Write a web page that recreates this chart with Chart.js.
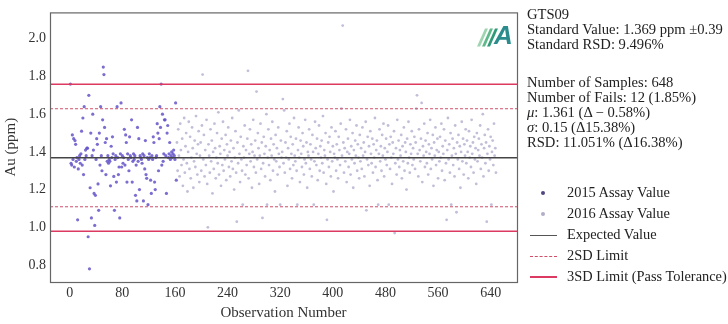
<!DOCTYPE html>
<html>
<head>
<meta charset="utf-8">
<script src="https://cdn.jsdelivr.net/npm/chart.js@4"></script>
<style>
  body { margin: 0; background: #fff; }
  #wrap { position: relative; width: 728px; height: 324px; font-family: "Liberation Serif", serif; color: #222; }
  #chart { position: absolute; left: 0; top: 0; }
  .info { position: absolute; left: 527px; font-size: 14.6px; line-height: 15px; white-space: nowrap; }
  .leg { position: absolute; left: 528px; font-size: 14.4px; white-space: nowrap; }
  .leg div { position: relative; height: 21px; line-height: 21px; padding-left: 39px; }
  .dot { position: absolute; left: 13px; top: 9px; width: 4px; height: 4px; border-radius: 50%; }
  .ln { position: absolute; left: 2px; top: 11px; width: 27px; height: 0; }
  .bar { position: absolute; left: 2px; top: 10px; width: 27px; height: 2px; }
</style>
</head>
<body>
<div id="wrap">
  <canvas id="chart" width="728" height="324"></canvas>
  <div class="info" style="top:7px">
    GTS09<br>
    Standard Value: 1.369 ppm ±0.39<br>
    Standard RSD: 9.496%
  </div>
  <div class="info" style="top:75px">
    Number of Samples: 648<br>
    Number of Fails: 12 (1.85%)<br>
    <i>μ</i>: 1.361 (Δ − 0.58%)<br>
    <i>σ</i>: 0.15 (Δ15.38%)<br>
    RSD: 11.051% (Δ16.38%)
  </div>
  <div class="leg" style="top:182px">
    <div><span class="dot" style="background:#4f4880"></span>2015 Assay Value</div>
    <div><span class="dot" style="background:#b3adc8"></span>2016 Assay Value</div>
    <div><span class="ln" style="border-top:1px solid #555"></span>Expected Value</div>
    <div><span class="ln" style="border-top:1px dashed #d0506a"></span>2SD Limit</div>
    <div><span class="bar" style="background:#dc3a60"></span>3SD Limit (Pass Tolerance)</div>
  </div>
</div>
<script>
// reference lines
const expected = 1.369;
const sd = 0.13;
const lim2 = [expected - 2 * sd, expected + 2 * sd];
const lim3 = [expected - 3 * sd, expected + 3 * sd];

const xTicks = [0, 80, 160, 240, 320, 400, 480, 560, 640];
const yTicks = [0.8, 1.0, 1.2, 1.4, 1.6, 1.8, 2.0];
const xRange = [-30, 680];
const yRange = [0.71, 2.14];

// 2015 assays, observations 1..162
const assay2015 = [
  1.76, 1.34, 1.33, 1.49, 1.36, 1.47, 1.32, 1.46, 1.44, 1.35,
  1.37, 1.04, 1.31, 1.36, 1.38, 1.34, 1.39, 1.51, 1.33, 1.58,
  1.28, 1.64, 1.36, 1.41, 1.38, 1.42, 1.42, 0.95, 1.70, 0.78,
  1.21, 1.50, 1.05, 1.38, 1.60, 1.41, 1.18, 1.01, 1.17, 1.36,
  1.47, 1.44, 1.23, 1.09, 1.50, 1.33, 1.64, 1.38, 1.30, 1.57,
  1.85, 1.81, 1.53, 1.45, 1.28, 1.47, 1.35, 1.38, 1.34, 1.36,
  1.35, 1.22, 1.43, 1.37, 1.48, 1.39, 1.27, 1.09, 1.36, 1.38,
  1.24, 1.64, 1.37, 1.28, 1.32, 1.05, 1.39, 1.66, 1.32, 1.38,
  1.34, 1.37, 1.52, 1.33, 1.49, 1.45, 1.24, 1.39, 1.36, 1.30,
  1.48, 1.38, 1.37, 1.57, 1.24, 1.35, 1.39, 1.36, 1.38, 1.17,
  1.33, 1.14, 1.53, 1.35, 1.47, 1.20, 1.38, 1.37, 1.36, 1.34,
  1.39, 1.14, 1.38, 1.31, 1.46, 1.28, 1.26, 1.37, 1.12, 1.36,
  1.39, 1.37, 1.25, 1.18, 1.38, 1.36, 1.48, 1.45, 1.24, 1.20,
  1.37, 1.38, 1.55, 1.50, 1.30, 1.47, 1.64, 1.53, 1.76, 1.33,
  1.60, 1.35, 1.39, 1.57, 1.57, 1.38, 1.18, 1.50, 1.54, 1.37,
  1.39, 1.45, 1.36, 1.38, 1.40, 1.37, 1.39, 1.41, 1.38, 1.36,
  1.66, 1.25
];

// 2016 assays, observations 163..648
const assay2016 = [
  1.45, 1.30, 1.52, 1.38, 1.27, 1.55, 1.41, 1.33, 1.47, 1.22, 1.36, 1.58, 1.29, 1.43, 1.50, 1.34, 1.19, 1.40, 1.56, 1.31,
  1.48, 1.26, 1.37, 1.53, 1.42, 1.21, 1.35, 1.46, 1.32, 1.59, 1.39, 1.28, 1.44, 1.51, 1.24, 1.38, 1.45, 1.30, 1.54, 1.81,
  1.36, 1.49, 1.27, 1.41, 1.33, 1.57, 1.23, 1.00, 1.44, 1.38, 1.29, 1.52, 1.35, 1.46, 1.18, 1.40, 1.31, 1.55, 1.42, 1.26,
  1.37, 1.50, 1.34, 1.61, 1.28, 1.43, 1.39, 1.22, 1.47, 1.33, 1.56, 1.30, 1.41, 1.36, 1.49, 1.25, 1.44, 1.38, 1.53, 1.32,
  1.40, 1.27, 1.46, 1.35, 1.58, 1.31, 1.42, 1.20, 1.37, 1.51, 1.29, 1.03, 1.45, 1.34, 1.62, 1.39, 1.24, 1.48, 1.36, 1.30,
  1.12, 1.43, 1.37, 1.54, 1.28, 1.41, 1.33, 1.47, 1.83, 1.26, 1.39, 1.52, 1.35, 1.44, 1.21, 1.40, 1.57, 1.32, 1.38, 1.46,
  1.29, 1.72, 1.36, 1.50, 1.42, 1.23, 1.38, 1.55, 1.31, 1.45, 1.05, 1.34, 1.48, 1.39, 1.27, 1.43, 1.60, 1.12, 1.37, 1.52,
  1.33, 1.41, 1.25, 1.47, 1.38, 1.56, 1.30, 1.44, 1.36, 1.19, 1.49, 1.35, 1.42, 1.28, 1.53, 1.39, 1.32, 1.12, 1.46, 1.37,
  1.40, 1.68, 1.34, 1.62, 1.29, 1.45, 1.37, 1.51, 1.22, 1.42, 1.36, 1.55, 1.31, 1.48, 1.39, 1.26, 1.44, 1.33, 1.58, 1.38,
  1.35, 1.47, 1.30, 1.12, 1.41, 1.53, 1.37, 1.24, 1.46, 1.39, 1.32, 1.50, 1.43, 1.28, 1.36, 1.57, 1.34, 1.45, 1.21, 1.40,
  1.38, 1.52, 1.31, 1.44, 1.36, 1.27, 1.49, 1.40, 1.12, 1.35, 1.56, 1.42, 1.33, 1.47, 1.25, 1.39, 1.54, 1.30, 1.43, 1.37,
  1.46, 1.34, 1.59, 1.29, 1.41, 1.38, 1.50, 1.23, 1.04, 1.36, 1.45, 1.32, 1.48, 1.40, 1.27, 1.53, 1.35, 1.43, 1.19, 1.39,
  1.37, 1.51, 1.30, 1.44, 1.36, 1.26, 1.48, 1.41, 1.33, 1.55, 1.63, 1.38, 2.07, 1.45, 1.29, 1.42, 1.35, 1.52, 1.24, 1.40,
  1.47, 1.32, 1.39, 1.57, 1.28, 1.43, 1.36, 1.50, 1.21, 1.41, 1.34, 1.46, 1.38, 1.54, 1.30, 1.44, 1.37, 1.26, 1.49, 1.35,
  1.42, 1.31, 1.53, 1.38, 1.45, 1.27, 1.40, 1.56, 1.09, 1.36, 1.48, 1.33, 1.43, 1.22, 1.51, 1.39, 1.34, 1.47, 1.29, 1.44,
  1.37, 1.58, 1.32, 1.41, 1.46, 1.25, 1.12, 1.39, 1.52, 1.35, 1.43, 1.30, 1.49, 1.38, 1.55, 1.27, 1.42, 1.36, 1.47, 1.33,
  1.40, 1.54, 1.12, 1.44, 1.31, 1.48, 1.37, 1.23, 1.45, 1.39, 1.51, 0.97, 1.34, 1.42, 1.28, 1.57, 1.36, 1.46, 1.32, 1.41,
  1.38, 1.49, 1.26, 1.43, 1.35, 1.53, 1.30, 1.45, 1.40, 1.20, 1.47, 1.34, 1.56, 1.37, 1.29, 1.44, 1.39, 1.51, 1.33, 1.42,
  1.36, 1.48, 1.31, 1.45, 1.63, 1.70, 1.39, 1.27, 1.52, 1.41, 1.35, 1.47, 1.66, 1.24, 1.43, 1.38, 1.55, 1.32, 1.46, 1.40,
  1.34, 1.50, 1.28, 1.44, 1.39, 1.57, 1.31, 1.42, 1.36, 1.49, 1.22, 1.45, 1.38, 1.53, 1.33, 1.41, 1.47, 1.26, 1.40, 1.35,
  1.48, 1.37, 1.55, 1.30, 1.43, 1.39, 1.52, 1.25, 1.46, 1.34, 1.04, 1.41, 1.58, 1.36, 1.44, 1.29, 1.50, 1.12, 1.38, 1.47,
  1.33, 1.42, 1.27, 1.54, 1.39, 1.08, 1.45, 1.36, 1.49, 1.31, 1.43, 1.21, 1.40, 1.56, 1.35, 1.47, 1.28, 1.44, 1.38, 1.52,
  1.34, 1.46, 1.40, 1.26, 1.51, 1.37, 1.43, 1.32, 1.57, 1.39, 1.45, 1.29, 1.48, 1.36, 1.42, 1.23, 1.50, 1.35, 1.41, 1.47,
  1.38, 1.54, 1.31, 1.44, 1.37, 1.60, 1.27, 1.42, 1.49, 1.34, 1.45, 1.03, 1.39, 1.52, 1.30, 1.43, 1.36, 1.48, 1.12, 1.40,
  1.46, 1.33, 1.55, 1.38, 1.42, 1.29
];

const pts2015 = assay2015.map((v, i) => ({ x: i + 1, y: v }));
const pts2016 = assay2016.map((v, i) => ({ x: assay2015.length + i + 1, y: v }));
const hline = y => [{ x: xRange[0], y: y }, { x: xRange[1], y: y }];

const serif = '"Liberation Serif", serif';

// frame around the plot + the little logo in the corner
const framePlugin = {
  id: 'frame',
  afterDraw(chart) {
    const a = chart.chartArea, c = chart.ctx;
    c.save();
    c.strokeStyle = '#666';
    c.lineWidth = 1.2;
    c.strokeRect(a.left + 0.5, a.top + 0.5, a.right - a.left, a.bottom - a.top);
    // logo
    const lx = a.right - 40, ly = a.top + 8;
    const greens = ['#9fd4b0', '#5fb88a', '#2f9a78'];
    greens.forEach((g, i) => {
      c.fillStyle = g;
      c.beginPath();
      const x0 = lx + i * 5;
      c.moveTo(x0, ly + 26);
      c.lineTo(x0 + 8, ly + 8);
      c.lineTo(x0 + 11, ly + 8);
      c.lineTo(x0 + 3, ly + 26);
      c.fill();
    });
    c.fillStyle = '#2a8c8c';
    c.font = 'italic bold 26px "Liberation Sans", sans-serif';
    c.fillText('A', lx + 17, ly + 24);
    c.restore();
  }
};

new Chart(document.getElementById('chart'), {
  type: 'scatter',
  data: {
    datasets: [
      { label: '3SD Limit (Pass Tolerance)', type: 'line', data: hline(lim3[1]), borderColor: '#dc3a60', borderWidth: 1.5, pointRadius: 0 },
      { label: '3SD low', type: 'line', data: hline(lim3[0]), borderColor: '#dc3a60', borderWidth: 1.5, pointRadius: 0 },
      { label: '2SD Limit', type: 'line', data: hline(lim2[1]), borderColor: '#d0506a', borderWidth: 1, borderDash: [3, 2], pointRadius: 0 },
      { label: '2SD low', type: 'line', data: hline(lim2[0]), borderColor: '#d0506a', borderWidth: 1, borderDash: [3, 2], pointRadius: 0 },
      { label: 'Expected Value', type: 'line', data: hline(expected), borderColor: '#444', borderWidth: 1.5, pointRadius: 0 },
      { label: '2016 Assay Value', data: pts2016, backgroundColor: 'rgba(170,162,200,0.7)', borderWidth: 0, pointRadius: 1.4 },
      { label: '2015 Assay Value', data: pts2015, backgroundColor: 'rgba(100,85,200,0.85)', borderWidth: 0, pointRadius: 1.6 }
    ]
  },
  options: {
    responsive: false,
    animation: false,
    layout: { padding: { left: 0, right: 211, top: 9, bottom: 0 } },
    plugins: { legend: { display: false }, tooltip: { enabled: false } },
    scales: {
      x: {
        type: 'linear', min: xRange[0], max: xRange[1],
        afterBuildTicks: s => { s.ticks = xTicks.map(v => ({ value: v })); },
        afterFit: s => { s.height = 42; },
        grid: { display: false, drawTicks: false }, border: { display: false },
        ticks: { color: '#333', font: { family: serif, size: 14 }, padding: 3 },
        title: { display: true, text: 'Observation Number', color: '#333', font: { family: serif, size: 15 }, padding: { top: 0, bottom: 2 } }
      },
      y: {
        min: yRange[0], max: yRange[1],
        afterBuildTicks: s => { s.ticks = yTicks.map(v => ({ value: v })); },
        afterFit: s => { s.width = 50; },
        grid: { display: false, drawTicks: false }, border: { display: false },
        ticks: { color: '#333', font: { family: serif, size: 14 }, padding: 4, callback: v => v.toFixed(1) },
        title: { display: true, text: 'Au (ppm)', color: '#333', font: { family: serif, size: 15 }, padding: { top: 2, bottom: 0 } }
      }
    }
  },
  plugins: [framePlugin]
});
</script>
</body>
</html>
